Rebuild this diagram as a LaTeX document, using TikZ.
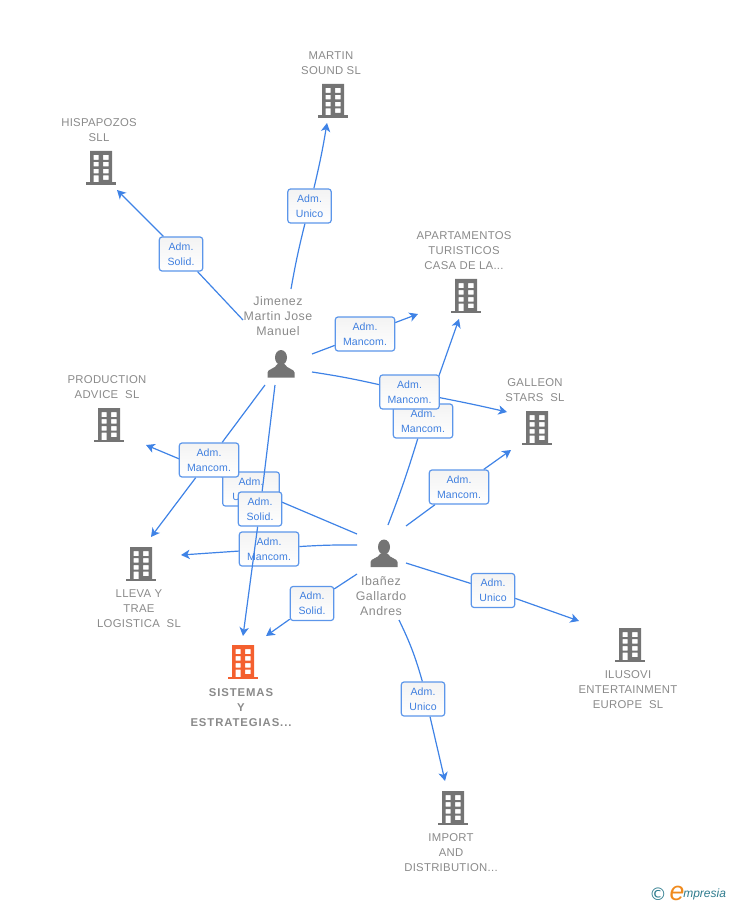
\documentclass[tikz,border=0pt]{standalone}
\usepackage{fontspec}
\setmainfont{Liberation Sans}
\newfontfamily\dejavu{DejaVu Sans}
\usetikzlibrary{arrows.meta,backgrounds,shadings}
\definecolor{linkblue}{HTML}{3F83E6}
\definecolor{txtblue}{HTML}{3F7FDF}
\definecolor{nodegray}{HTML}{8A8A8A}
\definecolor{icongray}{HTML}{747474}
\definecolor{orangeicon}{HTML}{F4602F}
\definecolor{teal1}{HTML}{2F7C8E}
\definecolor{logoorange}{HTML}{F08A1D}
\definecolor{labeltop}{HTML}{F3F3F3}
\tikzset{
  x=0.75pt,y=-0.75pt,
  conn/.style={draw=linkblue,line width=0.9pt},
  arr/.style={conn,-{Stealth[length=6.5pt,width=7pt,inset=1.8pt]}},
  rel/.style={draw=linkblue!85!white,line width=0.9pt,rounded corners=2pt,
     shade,top color=labeltop,bottom color=white,
     text=txtblue,font=\fontsize{7.9pt}{11.25pt}\selectfont\addfontfeature{LetterSpace=1},align=center,inner sep=0pt,minimum height=25.5pt},
  relm/.style={rel,minimum width=44.5pt},
  rels/.style={rel,minimum width=32.5pt},
  company/.style={text=nodegray,font=\fontsize{8.5pt}{11.25pt}\selectfont\addfontfeature{LetterSpace=2.5},align=center,inner sep=0pt},
  target/.style={company,font=\fontsize{8.5pt}{11.25pt}\selectfont\bfseries\addfontfeature{LetterSpace=8}},
  person/.style={text=nodegray,font=\fontsize{9.3pt}{11.25pt}\selectfont\addfontfeature{LetterSpace=4},align=center,inner sep=0pt},
  pics/bldg/.style={code={
    \fill[#1,even odd rule] (-11,-17) rectangle (11,15)
      (-7.5,-13) rectangle (-2.5,-8) (2,-13) rectangle (7.5,-8)
      (-7.5,-6) rectangle (-2.5,-1.5) (2,-6) rectangle (7.5,-1.5)
      (-7.5,1) rectangle (-2.5,5.5) (2,1) rectangle (7.5,5.5)
      (-7.5,7.5) rectangle (-2.5,15) (2,7.5) rectangle (7.5,12);
    \fill[#1] (-15,14.5) rectangle (15,17);
  }},
  pics/human/.style={code={
    \fill[icongray] (0,-6.5) ellipse (6 and 7.5);
    \fill[icongray] (-13.5,13.5) -- (-13.5,8.5) .. controls (-13.5,5) and (-6,5) .. (-3.5,0)
      -- (3.5,0) .. controls (6,5) and (13.5,5) .. (13.5,8.5) -- (13.5,13.5) -- cycle;
  }},
}
\begin{document}
\begin{tikzpicture}
\useasboundingbox (0,0) rectangle (728,905);
% icons
\pic at (333,101) {bldg=icongray};
\pic at (101,168) {bldg=icongray};
\pic at (466,296) {bldg=icongray};
\pic at (109,425) {bldg=icongray};
\pic at (537,428) {bldg=icongray};
\pic at (141,564) {bldg=icongray};
\pic at (243,662) {bldg=orangeicon};
\pic at (630,645) {bldg=icongray};
\pic at (453,808) {bldg=icongray};
\pic at (281,364) {human};
\pic at (384,553.5) {human};
% names
\node[company] (martin) at (331,63) {MARTIN\\SOUND SL};
\node[company] (hispa) at (99,130) {HISPAPOZOS\\SLL};
\node[company] (apart) at (464,250.5) {APARTAMENTOS\\TURISTICOS\\CASA DE LA...};
\node[company] (prod) at (107,387) {PRODUCTION\\ADVICE~~SL};
\node[company] (galleon) at (535,390) {GALLEON\\STARS~~SL};
\node[company] (lleva) at (139,608.5) {LLEVA Y\\TRAE\\LOGISTICA~~SL};
\node[target] (sist) at (241,707.5) {SISTEMAS\\Y\\ESTRATEGIAS...};
\node[company] (ilusovi) at (628,689.5) {ILUSOVI\\ENTERTAINMENT\\EUROPE~~SL};
\node[company] (import) at (451,852.5) {IMPORT\\AND\\DISTRIBUTION...};
\node[person] (jimenez) at (278,316.5) {Jimenez\\Martin Jose\\Manuel};
\node[person] (ibanez) at (381,596.5) {Ibañez\\Gallardo\\Andres};
% connector ends
\coordinate (jA) at (291,289);
\coordinate (jB) at (243,320);
\coordinate (jC) at (312,354);
\coordinate (jD) at (312,372);
\coordinate (jE) at (265,385);
\coordinate (jF) at (275,385);
\coordinate (iA) at (388,525);
\coordinate (iB) at (406,526);
\coordinate (iC) at (406,563);
\coordinate (iD) at (399,620);
\coordinate (iE) at (357,574);
\coordinate (iF) at (357,545);
\coordinate (iG) at (357,534);
\coordinate (tMartin) at (327,123);
\coordinate (tHispa) at (117,190);
\coordinate (tApartJ) at (418,314);
\coordinate (tApartI) at (459,319);
\coordinate (tGalleonJ) at (507,412);
\coordinate (tGalleonI) at (511,450);
\coordinate (tProd) at (146,445);
\coordinate (tLleva) at (151,537);
\coordinate (tLlevaI) at (181,555);
\coordinate (tSistJ) at (243,636);
\coordinate (tSistI) at (266,636);
\coordinate (tIlusovi) at (579,621);
\coordinate (tImport) at (445,781);
% labels
\node[rels] (lMartin) at (309.5,206) {Adm.~\\Unico};
\node[rels] (lHispa) at (181,254) {Adm.~\\Solid.};
\node[relm] (lApartJ) at (365,334) {Adm.~\\Mancom.};
\node[relm] (lApartI) at (423,421) {Adm.~\\Mancom.};
\node[relm] (lGalleonJ) at (409.5,392) {Adm.~\\Mancom.};
\node[relm] (lGalleonI) at (459,487) {Adm.~\\Mancom.};
\node[rel,minimum width=42.5pt] (lProd) at (251,489) {Adm.~\\Unico\hspace*{7.5pt}};
\node[relm] (lLleva) at (209,460) {Adm.~\\Mancom.};
\node[relm] (lLlevaI) at (269,549) {Adm.~\\Mancom.};
\node[rels] (lSistI) at (312,603.5) {Adm.~\\Solid.};
\node[rels] (lIlusovi) at (493,590.5) {Adm.~\\Unico};
\node[rels] (lImport) at (423,699) {Adm.~\\Unico};
\node[rels] (lSistJ) at (260,509) {Adm.~\\Solid.};
% connectors beneath the labels
\begin{scope}[on background layer]
\draw[conn] (jA) to[bend left=2] (lMartin);
\draw[arr] (lMartin) to[bend right=2] (tMartin);
\draw[conn] (jB) -- (lHispa);
\draw[arr] (lHispa) -- (tHispa);
\draw[conn] (jC) -- (lApartJ);
\draw[arr] (lApartJ) -- (tApartJ);
\draw[conn] (jD) to[bend left=2] (lGalleonJ);
\draw[arr] (lGalleonJ) to[bend left=1] (tGalleonJ);
\draw[conn] (jE) -- (lLleva);
\draw[arr] (lLleva) -- (tLleva);
\draw[conn] (iG) -- (lProd);
\draw[arr] (lProd) -- (tProd);
\draw[conn] (iF) to[bend right=2] (lLlevaI);
\draw[arr] (lLlevaI) -- (tLlevaI);
\draw[conn] (iE) -- (lSistI);
\draw[arr] (lSistI) -- (tSistI);
\draw[conn] (iA) to[bend right=2] (lApartI);
\draw[arr] (lApartI) -- (tApartI);
\draw[conn] (iB) -- (lGalleonI);
\draw[arr] (lGalleonI) -- (tGalleonI);
\draw[conn] (iC) -- (lIlusovi);
\draw[arr] (lIlusovi) -- (tIlusovi);
\draw[conn] (iD) to[bend left=5] ([xshift=-0.5pt]lImport.north);
\draw[arr] ([xshift=5.25pt]lImport.south) -- (tImport);
\end{scope}
% connector that runs over the other labels
\draw[conn] (jF) -- (lSistJ);
\draw[arr] (lSistJ) -- (tSistJ);
% logo
\node[inner sep=0pt,text=teal1,font=\dejavu\fontsize{13pt}{13pt}\selectfont] (copy) at (658,894) {©};
\node[inner sep=0pt,text=logoorange,font=\fontsize{20pt}{20pt}\selectfont\itshape] (logoe) at (677,893) {e};
\node[inner sep=0pt,text=teal1,anchor=west,font=\fontsize{9pt}{10pt}\selectfont\itshape] (logot) at (683,894) {mpresia};
\end{tikzpicture}
\end{document}
